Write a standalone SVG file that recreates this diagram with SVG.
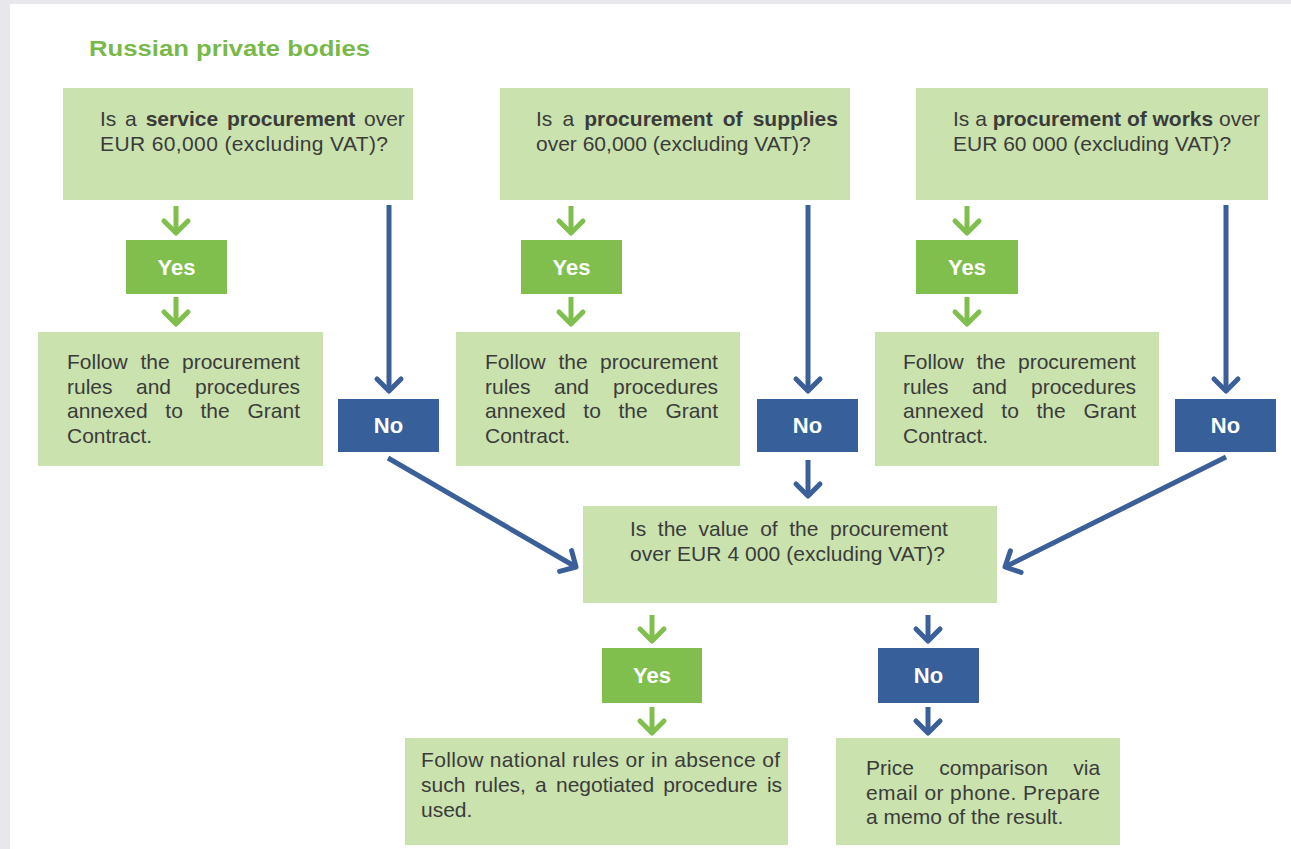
<svg xmlns="http://www.w3.org/2000/svg" width="1291" height="849" viewBox="0 0 1291 849">
<style>
.box{fill:#c9e2ae}
.yes{fill:#80bf4e}
.no{fill:#375f99}
.t{font-family:"Liberation Sans",Arial,sans-serif;font-size:21px;fill:#3b3b3b}
.b{font-weight:bold}
.lab{font-family:"Liberation Sans",Arial,sans-serif;font-size:22px;font-weight:bold;fill:#ffffff;text-anchor:middle}
.title{font-family:"Liberation Sans",Arial,sans-serif;font-size:22px;font-weight:bold;fill:#79b94a}
.ga{stroke:#80bf4e;stroke-width:5;fill:none;marker-end:url(#gh)}
.ba{stroke:#3a5f99;stroke-width:5;fill:none;marker-end:url(#bh)}
</style>
<defs>
<marker id="gh" markerUnits="userSpaceOnUse" orient="auto" overflow="visible" refX="0" refY="0" markerWidth="1" markerHeight="1">
<path d="M-12,-12 L0,0 L-12,12" fill="none" stroke="#80bf4e" stroke-width="5" stroke-linejoin="round" stroke-linecap="round"/>
</marker>
<marker id="bh" markerUnits="userSpaceOnUse" orient="auto" overflow="visible" refX="0" refY="0" markerWidth="1" markerHeight="1">
<path d="M-12,-12 L0,0 L-12,12" fill="none" stroke="#3a5f99" stroke-width="5" stroke-linejoin="round" stroke-linecap="round"/>
</marker>
</defs>
<rect x="0" y="0" width="1291" height="849" fill="#ffffff"/>
<rect x="0" y="0" width="1291" height="4" fill="#e8e7eb"/>
<rect x="0" y="0" width="10" height="849" fill="#e8e7eb"/>
<text class="title" x="89" y="56" textLength="281" lengthAdjust="spacingAndGlyphs">Russian private bodies</text>

<g id="q-service">
<rect class="box" x="63" y="88" width="350" height="112"/>
<text class="t" y="126"><tspan x="100">Is</tspan><tspan x="125">a</tspan><tspan x="145.7" class="b">service</tspan><tspan x="227" class="b">procurement</tspan><tspan x="364">over</tspan></text>
<text class="t" x="100" y="151" textLength="288" lengthAdjust="spacing">EUR 60,000 (excluding VAT)?</text>
</g>
<g id="q-supplies">
<rect class="box" x="500" y="88" width="350" height="112"/>
<text class="t" y="126"><tspan x="536">Is</tspan><tspan x="562.5">a</tspan><tspan x="584.3" class="b">procurement</tspan><tspan x="722.8" class="b">of</tspan><tspan x="752.7" class="b">supplies</tspan></text>
<text class="t" x="536" y="151">over 60,000 (excluding VAT)?</text>
</g>
<g id="q-works">
<rect class="box" x="916" y="88" width="352" height="112"/>
<text class="t" x="953" y="126">Is a <tspan class="b">procurement of works</tspan> over</text>
<text class="t" x="953" y="151">EUR 60 000 (excluding VAT)?</text>
</g>

<g id="yes1"><rect class="yes" x="126" y="240" width="101" height="54"/><text class="lab" x="176.5" y="275">Yes</text></g>
<g id="yes2"><rect class="yes" x="521" y="240" width="101" height="54"/><text class="lab" x="571.5" y="275">Yes</text></g>
<g id="yes3"><rect class="yes" x="916" y="240" width="102" height="54"/><text class="lab" x="967" y="275">Yes</text></g>

<g id="follow1">
<rect class="box" x="38" y="332" width="285" height="134"/>
<text class="t" y="369"><tspan x="67">Follow</tspan><tspan x="140.5">the</tspan><tspan x="182">procurement</tspan></text>
<text class="t" y="394"><tspan x="67">rules</tspan><tspan x="136">and</tspan><tspan x="195">procedures</tspan></text>
<text class="t" y="418"><tspan x="67">annexed</tspan><tspan x="165.3">to</tspan><tspan x="200.5">the</tspan><tspan x="247.5">Grant</tspan></text>
<text class="t" x="67" y="443">Contract.</text>
</g>
<g id="follow2">
<rect class="box" x="456" y="332" width="284" height="134"/>
<text class="t" y="369"><tspan x="485">Follow</tspan><tspan x="558.5">the</tspan><tspan x="600">procurement</tspan></text>
<text class="t" y="394"><tspan x="485">rules</tspan><tspan x="554">and</tspan><tspan x="613">procedures</tspan></text>
<text class="t" y="418"><tspan x="485">annexed</tspan><tspan x="583.3">to</tspan><tspan x="618.5">the</tspan><tspan x="665.5">Grant</tspan></text>
<text class="t" x="485" y="443">Contract.</text>
</g>
<g id="follow3">
<rect class="box" x="875" y="332" width="284" height="134"/>
<text class="t" y="369"><tspan x="903">Follow</tspan><tspan x="976.5">the</tspan><tspan x="1018">procurement</tspan></text>
<text class="t" y="394"><tspan x="903">rules</tspan><tspan x="972">and</tspan><tspan x="1031">procedures</tspan></text>
<text class="t" y="418"><tspan x="903">annexed</tspan><tspan x="1001.3">to</tspan><tspan x="1036.5">the</tspan><tspan x="1083.5">Grant</tspan></text>
<text class="t" x="903" y="443">Contract.</text>
</g>

<g id="no1"><rect class="no" x="338" y="399" width="101" height="53"/><text class="lab" x="388.5" y="433">No</text></g>
<g id="no2"><rect class="no" x="757" y="399" width="101" height="53"/><text class="lab" x="807.5" y="433">No</text></g>
<g id="no3"><rect class="no" x="1175" y="399" width="101" height="53"/><text class="lab" x="1225.5" y="433">No</text></g>

<g id="q-value">
<rect class="box" x="583" y="506" width="414" height="97"/>
<text class="t" y="536"><tspan x="630">Is</tspan><tspan x="657.8">the</tspan><tspan x="698.5">value</tspan><tspan x="760.2">of</tspan><tspan x="789.2">the</tspan><tspan x="830">procurement</tspan></text>
<text class="t" x="630" y="561" textLength="315" lengthAdjust="spacing">over EUR 4 000 (excluding VAT)?</text>
</g>

<g id="yes4"><rect class="yes" x="602" y="648" width="100" height="55"/><text class="lab" x="652" y="683">Yes</text></g>
<g id="no4"><rect class="no" x="878" y="648" width="101" height="55"/><text class="lab" x="928.5" y="683">No</text></g>

<g id="national">
<rect class="box" x="405" y="738" width="383" height="107"/>
<text class="t" x="421" y="767" textLength="359" lengthAdjust="spacing">Follow national rules or in absence of</text>
<text class="t" y="792"><tspan x="421">such</tspan><tspan x="474.6">rules,</tspan><tspan x="535.1">a</tspan><tspan x="556">negotiated</tspan><tspan x="663.2">procedure</tspan><tspan x="766.9">is</tspan></text>
<text class="t" x="421" y="817">used.</text>
</g>
<g id="price">
<rect class="box" x="836" y="738" width="284" height="107"/>
<text class="t" y="775"><tspan x="866">Price</tspan><tspan x="939.3">comparison</tspan><tspan x="1073.3">via</tspan></text>
<text class="t" x="866" y="800" textLength="234" lengthAdjust="spacing">email or phone. Prepare</text>
<text class="t" x="866" y="824">a memo of the result.</text>
</g>

<g id="connectors">
<path class="ga" d="M176,206 L176,233"/>
<path class="ga" d="M176,297 L176,324"/>
<path class="ga" d="M571,206 L571,233"/>
<path class="ga" d="M571,297 L571,324"/>
<path class="ga" d="M967,206 L967,233"/>
<path class="ga" d="M967,297 L967,324"/>
<path class="ba" d="M389,205 L389,391"/>
<path class="ba" d="M808,205 L808,391"/>
<path class="ba" d="M1226,205 L1226,391"/>
<path class="ba" d="M388,458 L576,567"/>
<path class="ba" d="M808,460 L808,496"/>
<path class="ba" d="M1226,457 L1005,567"/>
<path class="ga" d="M652,615 L652,641"/>
<path class="ga" d="M652,707 L652,733"/>
<path class="ba" d="M928,615 L928,641"/>
<path class="ba" d="M928,707 L928,733"/>
</g>
</svg>
